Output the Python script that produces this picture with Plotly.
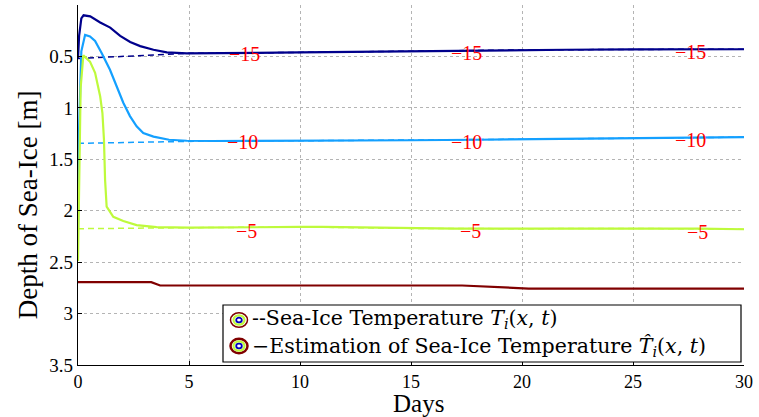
import plotly.graph_objects as go

# ---------------- data ----------------
navy_est_t = [0, 0.05, 0.15, 0.25, 0.55, 1.0, 1.45, 1.9, 2.35, 2.8, 3.4, 4.0, 4.9, 6, 8, 10, 12, 15, 18, 20, 22, 25, 28, 30]
navy_est_d = [0.52, 0.30, 0.13, 0.10, 0.11, 0.17, 0.22, 0.30, 0.36, 0.40, 0.435, 0.46, 0.47, 0.47, 0.465, 0.46, 0.455, 0.447, 0.44, 0.437, 0.435, 0.432, 0.43, 0.43]
navy_true_t = [0, 1, 2, 3, 4, 5, 6, 10, 15, 20, 25, 30]
navy_true_d = [0.52, 0.51, 0.50, 0.49, 0.48, 0.47, 0.47, 0.46, 0.447, 0.437, 0.432, 0.43]

blue_est_t = [0, 0.05, 0.15, 0.32, 0.54, 0.77, 1.07, 1.44, 1.74, 2.04, 2.34, 2.64, 2.94, 3.4, 4.1, 4.9, 6, 8, 10, 12, 15, 18, 20, 22, 25, 28, 30]
blue_est_d = [2.17, 1.20, 0.45, 0.29, 0.305, 0.35, 0.47, 0.63, 0.79, 0.95, 1.08, 1.18, 1.245, 1.28, 1.31, 1.32, 1.322, 1.322, 1.32, 1.318, 1.315, 1.31, 1.305, 1.30, 1.295, 1.29, 1.285]
blue_true_t = [0, 1, 2, 3, 4, 5, 6, 10, 15, 20, 25, 30]
blue_true_d = [1.345, 1.34, 1.335, 1.33, 1.325, 1.32, 1.322, 1.32, 1.315, 1.305, 1.295, 1.285]

green_est_t = [0, 0.05, 0.12, 0.24, 0.54, 0.77, 1.0, 1.1, 1.17, 1.22, 1.29, 1.59, 2.04, 2.64, 3.54, 5, 6, 8, 10, 11, 12, 14, 15, 17, 20, 22, 25, 27, 28, 30]
green_est_d = [2.49, 1.60, 0.80, 0.49, 0.55, 0.66, 0.89, 1.05, 1.31, 1.70, 1.96, 2.06, 2.10, 2.14, 2.16, 2.165, 2.165, 2.16, 2.158, 2.157, 2.16, 2.168, 2.172, 2.175, 2.175, 2.174, 2.172, 2.172, 2.175, 2.18]
green_true_t = [0, 1, 2, 3, 4, 5, 10, 15, 20, 25, 30]
green_true_d = [2.175, 2.172, 2.17, 2.168, 2.165, 2.165, 2.158, 2.172, 2.175, 2.172, 2.18]

red_t = [0, 3.3, 3.7, 17.3, 20.3, 30]
red_d = [2.695, 2.695, 2.727, 2.727, 2.757, 2.757]

label_text = ["\u221215", "\u221215", "\u221215", "\u221210", "\u221210", "\u221210", "\u22125", "\u22125", "\u22125"]
label_t = [7.5, 17.5, 27.6, 7.4, 17.5, 27.6, 7.6, 17.7, 27.9]
label_d = [0.474, 0.465, 0.46, 1.33, 1.33, 1.315, 2.20, 2.20, 2.205]

x_ticks = [0, 5, 10, 15, 20, 25, 30]
y_ticks = [0.5, 1, 1.5, 2, 2.5, 3, 3.5]

NAVY = "rgb(0,0,140)"
BLUE = "rgb(20,160,255)"
GREEN = "rgb(190,250,60)"
DRED = "rgb(128,0,0)"
FONT = "Liberation Serif"
LFONT = "DejaVu Serif"

fig = go.Figure()

# true (dashed) isotherms
for t, d, c in [(navy_true_t, navy_true_d, NAVY), (blue_true_t, blue_true_d, BLUE), (green_true_t, green_true_d, GREEN)]:
    fig.add_trace(go.Scatter(x=t, y=d, mode="lines", line=dict(color=c, width=1.5, dash="6px,4px"),
                             showlegend=False, hoverinfo="skip"))
# estimated (solid) isotherms
for t, d, c in [(navy_est_t, navy_est_d, NAVY), (blue_est_t, blue_est_d, BLUE), (green_est_t, green_est_d, GREEN)]:
    fig.add_trace(go.Scatter(x=t, y=d, mode="lines", line=dict(color=c, width=2.2),
                             showlegend=False, hoverinfo="skip"))
fig.add_trace(go.Scatter(x=red_t, y=red_d, mode="lines", line=dict(color=DRED, width=2.2),
                         showlegend=False, hoverinfo="skip"))

# contour labels
for txt, t, d in zip(label_text, label_t, label_d):
    fig.add_annotation(x=t, y=d, xref="x", yref="y", text=txt, showarrow=False,
                       xanchor="center", yanchor="middle",
                       font=dict(family=FONT, size=20, color="red"))

fig.update_layout(
    width=759, height=417,
    margin=dict(l=78, r=15, t=5, b=52),
    paper_bgcolor="white", plot_bgcolor="white",
    showlegend=False,
    font=dict(family=FONT, size=18, color="black"),
)
fig.update_xaxes(range=[0, 30], tickvals=x_ticks, ticktext=[str(v) for v in x_ticks],
                 showline=True, linecolor="black", linewidth=1.2, mirror=False,
                 ticks="inside", ticklen=4, tickcolor="black",
                 showgrid=True, gridcolor="#b4b4b4", griddash="dot", gridwidth=1,
                 zeroline=False, tickfont=dict(family=FONT, size=18))
fig.update_yaxes(range=[3.5, 0], tickvals=y_ticks, ticktext=["0.5", "1", "1.5", "2", "2.5", "3", "3.5"],
                 showline=True, linecolor="black", linewidth=1.2, mirror=False,
                 ticks="inside", ticklen=4, tickcolor="black",
                 showgrid=True, gridcolor="#b4b4b4", griddash="dot", gridwidth=1,
                 zeroline=False, tickfont=dict(family=FONT, size=19))

# axis titles
fig.add_annotation(x=-0.075, y=0.444, xref="paper", yref="paper", text="Depth of Sea-Ice [m]",
                   textangle=-90, showarrow=False, xanchor="center", yanchor="middle",
                   font=dict(family=FONT, size=27))
fig.add_annotation(x=0.512, y=-0.108, xref="paper", yref="paper", text="Days",
                   showarrow=False, xanchor="center", yanchor="middle",
                   font=dict(family=FONT, size=25))

# legend box
def px(xp):
    return (xp - 78) / 666.0
def py(yp):
    return (365 - yp) / 360.0

fig.add_shape(type="rect", xref="paper", yref="paper", x0=px(223), x1=px(741), y0=py(362), y1=py(305),
              line=dict(color="black", width=1.2), fillcolor="white", layer="above")
for cy, ow in [(320, 1.5), (346, 2.5)]:
    for r, col, w in [(8.5, DRED, ow), (5.5, GREEN, 2.2), (2.8, "rgb(0,0,190)", 1.8)]:
        fig.add_shape(type="circle", xref="paper", yref="paper",
                      x0=px(239 - r), x1=px(239 + r), y0=py(cy + r * 0.85), y1=py(cy - r * 0.85),
                      line=dict(color=col, width=w), fillcolor="rgba(0,0,0,0)", layer="above")
fig.add_annotation(x=px(250), y=py(319), xref="paper", yref="paper", xanchor="left", yanchor="middle",
                   text="--Sea-Ice Temperature <i>T</i><sub><i>i</i></sub>(<i>x</i>, <i>t</i>)",
                   showarrow=False, font=dict(family=LFONT, size=20.5))
fig.add_annotation(x=px(250), y=py(347), xref="paper", yref="paper", xanchor="left", yanchor="middle",
                   text="\u2212Estimation of Sea-Ice Temperature <i>T\u0302</i><sub><i>i</i></sub>(<i>x</i>, <i>t</i>)",
                   showarrow=False, font=dict(family=LFONT, size=20.5))

fig.write_html("out.html")
